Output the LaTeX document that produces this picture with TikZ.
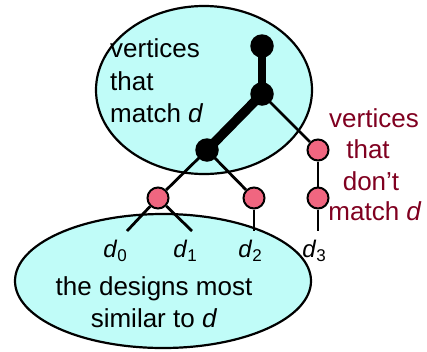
\documentclass[tikz,border=0pt]{standalone}
\usepackage{fontspec}
\setmainfont{Liberation Sans}
\usetikzlibrary{shapes.geometric,backgrounds}
\definecolor{cyanfill}{RGB}{192,252,248}
\definecolor{pinkfill}{RGB}{240,102,128}
\definecolor{darkred}{RGB}{128,0,32}
\newcommand\dlab[1]{{\fontsize{24}{24}\selectfont\textit{d}}\raisebox{-4pt}{\fontsize{17}{17}\selectfont #1}}
\tikzset{
  region/.style={ellipse, draw=black, line width=2.2pt, fill=cyanfill, inner sep=0pt},
  blackvertex/.style={circle, fill=black, minimum size=23.5pt, inner sep=0pt},
  pinkvertex/.style={circle, draw=black, line width=2pt, fill=pinkfill, minimum size=21pt, inner sep=0pt},
  boldedge/.style={line width=9.5pt},
  thinedge/.style={line width=2.8pt},
  bigtext/.style={inner sep=0pt, font=\fontsize{26}{31}\selectfont},
  redtext/.style={bigtext, text=darkred},
  dtext/.style={inner sep=0pt, anchor=base},
}
\begin{document}
\begin{tikzpicture}[x=1pt,y=-1pt]
\useasboundingbox (0,0) rectangle (427,351);
% regions
\begin{scope}[on background layer]
\node[region, minimum width=216pt, minimum height=168pt] (topregion) at (204,90) {};
\node[region, minimum width=296pt, minimum height=134pt] (botregion) at (163,281) {};
\end{scope}
% vertices
\node[blackvertex] (v1) at (262,46) {};
\node[blackvertex] (v2) at (262,94) {};
\node[blackvertex] (v3) at (207,150) {};
\node[pinkvertex] (r1) at (318,150) {};
\node[pinkvertex] (pa) at (158,198) {};
\node[pinkvertex] (pb) at (254,198) {};
\node[pinkvertex] (r2) at (318,198) {};
\coordinate (e0) at (127,231);
\coordinate (e1) at (192,231);
\coordinate (e2) at (254,231);
\coordinate (e3) at (318,231);
% edges
\begin{scope}[on background layer]
\draw[boldedge, line width=8.5pt] (v1.center) -- (v2.center);
\draw[boldedge] (v2.center) -- (v3.center);
\draw[thinedge] (v2.center) -- (r1);
\draw[thinedge] (v3.center) -- (pa);
\draw[thinedge] (v3.center) -- (pb);
\draw[thinedge] (r1) -- (r2);
\draw[thinedge] (pa) -- (e0);
\draw[thinedge] (pa) -- (e1);
\draw[thinedge] (pb) -- (e2);
\draw[thinedge] (r2) -- (e3);
\end{scope}
% labels
\node[dtext] (d0) at (115,257) {\dlab{0}};
\node[dtext] (d1) at (185,257) {\dlab{1}};
\node[dtext] (d2) at (250,257) {\dlab{2}};
\node[dtext] (d3) at (314,257) {\dlab{3}};
% texts
\node[bigtext, anchor=base west] (ta) at (110,57) {vertices};
\node[bigtext, anchor=base west] (tb) at (110,90) {that};
\node[bigtext, anchor=base west] (tc) at (110,122) {match \textit{d}};
\node[redtext, anchor=base] (ra) at (374,127) {vertices};
\node[redtext, anchor=base] (rb) at (368,158) {that};
\node[redtext, anchor=base] (rc) at (371,190) {don’t};
\node[redtext, anchor=base] (rd) at (375,220) {match \textit{d}};
\node[bigtext, anchor=base] (ba) at (154,295) {the designs most};
\node[bigtext, anchor=base] (bb) at (154,327) {similar to \textit{d}};
\end{tikzpicture}
\end{document}
